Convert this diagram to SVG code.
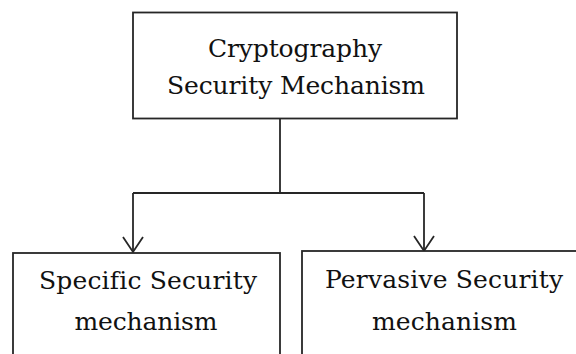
<svg xmlns="http://www.w3.org/2000/svg" width="576" height="354" viewBox="0 0 576 354">
  <style>
    .box { fill: #ffffff; stroke: #262626; stroke-width: 1.8; }
    .label { font-family: "DejaVu Serif", "Liberation Serif", serif; font-size: 25px; fill: #111111; text-anchor: middle; font-variant-ligatures: none; }
    .wire { fill: none; stroke: #262626; stroke-width: 1.8; }
  </style>
  <defs>
    <marker id="open-arrow" markerWidth="24" markerHeight="20" refX="11" refY="16" orient="0" markerUnits="userSpaceOnUse">
      <path d="M1,1 L11,16 L21,1" fill="none" stroke="#262626" stroke-width="1.8"/>
    </marker>
  </defs>
  <rect width="576" height="354" fill="#ffffff"/>

  <g id="connectors">
    <path class="wire" d="M280,119 V193"/>
    <path class="wire" d="M133,193 H424"/>
    <path class="wire" d="M133,193 V252" marker-end="url(#open-arrow)"/>
    <path class="wire" d="M424,193 V251" marker-end="url(#open-arrow)"/>
  </g>

  <g id="crypto-mechanism">
    <rect class="box" x="133" y="12.5" width="324" height="106"/>
    <text class="label" x="295" y="57" textLength="174" lengthAdjust="spacing">Cryptography</text>
    <text class="label" x="296" y="94" textLength="258" lengthAdjust="spacing">Security Mechanism</text>
  </g>

  <g id="specific-mechanism">
    <rect class="box" x="13" y="253" width="267" height="120"/>
    <text class="label" x="148" y="289" textLength="218" lengthAdjust="spacing">Specific Security</text>
    <text class="label" x="146" y="330" textLength="143" lengthAdjust="spacing">mechanism</text>
  </g>

  <g id="pervasive-mechanism">
    <rect class="box" x="302" y="251" width="300" height="120"/>
    <text class="label" x="444" y="288" textLength="238" lengthAdjust="spacing">Pervasive Security</text>
    <text class="label" x="444.5" y="330" textLength="145" lengthAdjust="spacing">mechanism</text>
  </g>
</svg>
